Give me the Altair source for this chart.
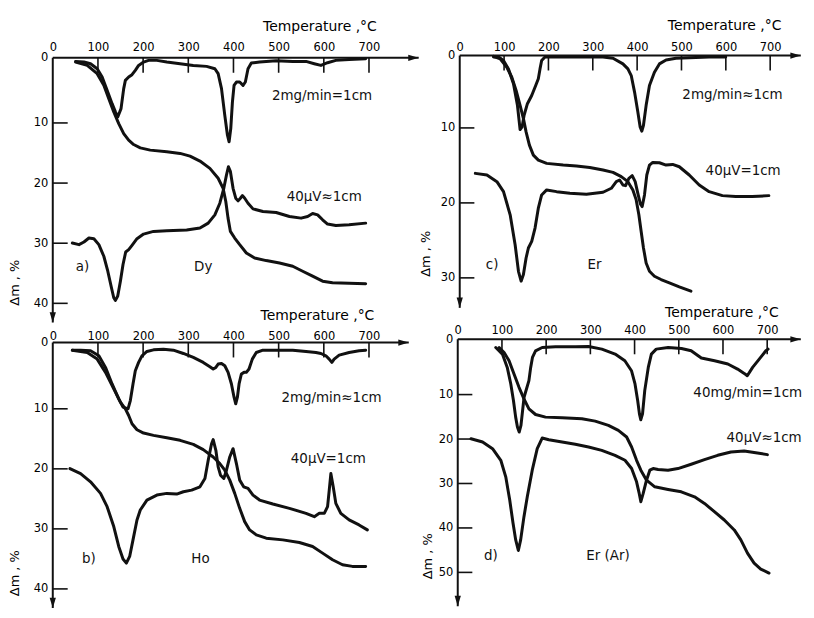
import altair as alt
import pandas as pd

FONT = "DejaVu Sans"
PW, PH = 399, 301
TEMP_TICKS = [0, 100, 200, 300, 400, 500, 600, 700]

# ---------------- panel a (Dy) ----------------
A_DTG_T = [50.6, 69, 83.6, 98.3, 109.3, 120.3, 131.3, 138.7, 143.8, 151.1, 157, 160.7, 168, 175.4, 182.7,
           190, 201, 212, 230.4, 252.4, 281.8, 311, 340.5, 358.8, 366.1, 373.5, 380.8, 386.7, 390.3, 394,
           397.7, 401.3, 406.5, 413.8, 421.2, 426.3, 432.2, 439.5, 457.8, 494.5, 531.2, 560.6, 578.9, 593.6,
           608.3, 626.6, 656, 692.6]
A_DTG_M = [0.56, 0.66, 0.91, 1.68, 2.96, 5.0, 7.04, 8.3, 9.08, 7.8, 4.74, 3.47, 2.96, 2.6, 1.93,
           1.17, 0.66, 0.4, 0.4, 0.66, 0.91, 1.17, 1.32, 1.68, 2.44, 4.74, 8.83, 12.04, 13.14, 10.94,
           6.78, 4.23, 3.72, 3.72, 4.23, 3.72, 1.68, 0.81, 0.66, 0.45, 0.56, 0.56, 0.91, 1.17,
           0.76, 0.4, 0.25, 0.15]
A_TG_T = [50.6, 76.3, 98.3, 113, 124, 135, 146, 157, 168, 179, 193.7, 215.7, 252.4, 281.8, 303.8, 325.8,
          347.8, 366.1, 377.1, 383, 388, 393.2, 402.7, 413.8, 428.5, 446.8, 472.5, 501.9, 531.2, 553.2,
          575.2, 597.3, 619.3, 692.6]
A_TG_M = [0.66, 1.17, 2.44, 4.23, 6.27, 8.32, 10.11, 11.77, 12.87, 13.59, 14.14, 14.52, 14.8, 15.07, 15.52,
          16.34, 17.56, 19.2, 20.87, 23.07, 25.83, 28.04, 29.14, 30.24, 31.62, 32.45, 32.89, 33.28, 33.83,
          34.66, 35.48, 36.31, 36.58, 36.75]
A_DTA_T = [43.3, 58, 69, 80, 91, 102, 113, 121.8, 129.9, 135, 138.7, 143.8, 149.7, 155.5, 161.4, 168,
           175.4, 186.4, 201, 223, 252.4, 296.4, 325.8, 344.1, 358.8, 369.8, 378.6, 384.5, 388.9, 393.3,
           399.1, 405, 410.2, 415.3, 419.7, 424.9, 432.2, 443.2, 465.2, 494.5, 523.9, 549.6, 564.2, 575.2,
           586.3, 597.3, 608.3, 626.6, 656, 692.6]
A_DTA_M = [29.97, 30.24, 29.8, 29.14, 29.25, 30.24, 32.17, 34.66, 37.41, 39.07, 39.51, 38.79, 36.31, 33.55,
           31.46, 31.07, 30.35, 29.25, 28.48, 28.04, 27.93, 27.82, 27.48, 26.66, 25.28, 23.35, 20.87, 18.66,
           17.28, 18.1, 20.87, 22.52, 22.96, 22.52, 22.08, 22.52, 23.35, 24.29, 24.73, 24.89, 25.55, 25.83,
           25.55, 25.06, 25.28, 26.1, 26.82, 27.04, 26.93, 26.66]

# ---------------- panel b (Ho) ----------------
B_DTG_T = [43.3, 61.6, 83.6, 102, 116.7, 131.3, 146, 155.5, 166.6, 171.7, 177.6, 182.7, 190, 197.4, 208.4,
           223, 245, 267, 289.1, 311.1, 333.1, 347.8, 355.1, 361, 366.1, 373.5, 380.8, 388.1, 395.5, 401.3,
           405, 408.7, 412.4, 417.5, 423.4, 428.5, 434.4, 441.7, 450.5, 465.2, 494.5, 531.2, 560.6, 582.6,
           593.6, 604.6, 611.9, 617.8, 622.9, 634, 656, 678, 692.6]
B_DTG_M = [1.15, 1.15, 1.25, 2.0, 3.75, 6.25, 8.5, 9.75, 10.0, 8.75, 6.25, 4.25, 3.0, 2.0, 1.35,
           1.1, 1.0, 1.15, 1.65, 2.25, 3.0, 3.65, 4.0, 3.75, 3.25, 3.15, 3.5, 4.5, 6.25, 8.25,
           9.25, 8.25, 6.25, 4.75, 4.5, 4.5, 4.0, 2.5, 1.5, 1.15, 1.15, 1.15, 1.35, 1.5,
           1.65, 2.0, 2.5, 3.0, 2.5, 1.9, 1.5, 1.25, 1.15]
B_TG_T = [43.3, 76.3, 98.3, 116.7, 135, 149.7, 160.7, 168, 175.4, 186.4, 201, 223, 252.4, 281.8, 311.1,
          333.1, 355.1, 369.8, 380.8, 391.8, 402.8, 413.8, 424.8, 435.8, 450.5, 472.5, 509.2, 545.9, 575.2,
          597.3, 619.3, 641.3, 663.3, 692.6]
B_TG_M = [1.15, 1.5, 2.5, 4.5, 7.0, 9.0, 10.0, 11.11, 12.49, 13.49, 14.04, 14.42, 14.81, 15.25, 15.92,
          16.8, 18.02, 19.12, 20.23, 21.88, 24.09, 26.58, 28.79, 30.17, 31.0, 31.55, 31.83, 32.27, 32.93,
          34.04, 35.14, 35.97, 36.25, 36.25]
B_DTA_T = [38, 61.6, 83.6, 105.7, 120.3, 135, 146, 155.5, 162.9, 170.2, 177.6, 186.4, 193.7, 208.4, 230.4,
           252.4, 274.4, 289.1, 307.4, 325.8, 336.8, 344.1, 351.5, 355.1, 361, 366.1, 371.3, 378.6, 384.5,
           391.8, 399.1, 406.5, 413.8, 422.6, 432.2, 443.2, 457.8, 487.2, 523.9, 560.6, 578.9, 590, 601,
           608.3, 612, 615.6, 620.8, 626.6, 637.6, 656, 678, 696.3]
B_DTA_M = [19.95, 20.78, 22.16, 24.09, 26.3, 29.62, 32.93, 35.03, 35.7, 34.59, 31.83, 28.51, 26.86, 25.2,
           24.37, 24.09, 24.2, 23.82, 23.54, 22.99, 21.61, 18.57, 15.81, 15.14, 16.91, 19.67, 21.06, 21.61,
           20.23, 18.02, 16.64, 19.12, 21.88, 22.99, 23.27, 24.37, 25.2, 25.86, 26.58, 27.41, 27.96, 27.41,
           27.41, 26.3, 23.54, 20.78, 22.99, 25.75, 27.41, 28.51, 29.34, 30.17]

# ---------------- panel c (Er) ----------------
C_DTG_T = [76.3, 87.5, 98.7, 109.9, 121.2, 130.1, 136.1, 140.6, 145.1, 152.6, 162.3, 171.3, 177.2, 181,
           184.7, 192.2, 203.4, 248.3, 293.2, 323.1, 345.6, 368, 379.2, 386.7, 394.2, 401.6, 406.8, 410.6,
           414.3, 420.3, 427.8, 439, 450.2, 465.2, 487.6, 532.5, 562.4, 599.8]
C_DTG_M = [0.2, 0.2, 0.69, 1.84, 3.9, 6.88, 10.22, 9.86, 8.25, 6.65, 5.51, 4.13, 3.21, 1.84,
           0.69, 0.2, 0.2, 0.2, 0.2, 0.2, 0.37, 1.15, 1.84, 2.76, 5.05, 7.79, 9.86, 10.44,
           9.63, 6.88, 4.13, 2.3, 1.15, 0.6, 0.37, 0.25, 0.2, 0.2]
C_TG_T = [76.3, 91.2, 106.2, 117.4, 127.1, 136.1, 143.6, 149.6, 157.1, 166, 177.2, 196, 233.3, 263.3, 293.2,
          323.1, 345.6, 364.2, 379.2, 390.4, 397.9, 403.9, 409.1, 414.3, 420.3, 427.8, 439, 454, 472.7,
          495.1, 521.3]
C_TG_M = [0.1, 0.46, 1.61, 2.99, 4.82, 6.88, 8.71, 10.53, 12.3, 13.63, 14.29, 14.73, 14.96, 15.09, 15.27,
          15.62, 15.93, 16.5, 17.17, 18.27, 19.6, 21.59, 23.81, 26.02, 28.01, 29.12, 29.78, 30.22, 30.66,
          31.19, 31.77]
C_DTA_T = [35.2, 61.3, 83.8, 98.7, 113.7, 124.9, 132.4, 138.4, 143.6, 149.6, 154.8, 162.3, 169.8, 177.2,
           184.7, 196, 218.4, 248.3, 285.7, 323.1, 341.8, 353, 360.5, 368, 373.9, 381.4, 388.9, 395.6,
           401.6, 407.6, 411.4, 416.6, 421.8, 427.8, 435.3, 450.2, 465.2, 480.1, 495.1, 517.5, 540, 562.4,
           592.3, 622.3, 659.6, 697]
C_DTA_M = [16.06, 16.28, 17.17, 18.5, 21.59, 25.58, 29.12, 30.44, 29.56, 27.35, 26.02, 25.13, 23.36, 20.71,
           18.94, 18.27, 18.5, 18.72, 18.85, 18.58, 18.05, 17.17, 16.95, 17.61, 17.7, 16.73, 16.37, 17.17,
           18.72, 20.18, 20.49, 18.94, 16.28, 14.96, 14.6, 14.65, 14.96, 14.87, 15.18, 16.28, 17.61, 18.5,
           19.03, 19.16, 19.16, 19.03]

# ---------------- panel d (Er, Ar) ----------------
D_DTG_T = [86, 101, 112, 120, 126, 131, 135, 139, 143, 150, 161, 165, 169, 176, 191, 221, 266, 296, 326,
           356, 378, 393, 401, 407, 411, 414, 418, 423, 431, 438, 449, 476, 506, 528, 551, 581, 611, 633,
           648, 655, 667, 682, 697, 702]
D_DTG_M = [1.47, 2.67, 5.08, 8.08, 11.34, 15.07, 17.31, 18.43, 16.94, 10.6, 7.48, 5.08, 3.27, 2.07, 1.47,
           1.35, 1.35, 1.29, 1.77, 2.67, 3.87, 5.68, 8.08, 11.34, 14.33, 15.67, 14.33, 9.28, 5.08, 2.67,
           1.77, 1.47, 1.65, 2.07, 3.39, 3.87, 4.47, 5.38, 6.16, 6.58, 5.08, 3.57, 2.07, 1.77]
D_TG_T = [93.6, 104.9, 116.1, 127.3, 138.6, 149.8, 161, 176, 198.5, 236, 280.9, 310.9, 340.8, 363.3, 382,
          393.3, 404.5, 414.2, 427, 445.7, 475.7, 505.6, 535.6, 558.1, 580.5, 603, 625.5, 640.4, 655.4,
          670.4, 685.4, 704.1]
D_TG_M = [1.47, 2.37, 3.87, 6.28, 8.68, 10.97, 13.21, 14.48, 15.07, 15.22, 15.45, 15.97, 16.94, 18.06,
          19.55, 21.79, 24.78, 27.01, 29.25, 30.75, 31.34, 31.87, 32.99, 34.48, 36.34, 38.21, 40.45, 42.69,
          45.67, 47.91, 49.25, 50.15]
D_DTA_T = [30, 56.2, 78.7, 97.4, 108.6, 117.6, 125.1, 131.1, 137.1, 142.3, 149.8, 157.3, 168.5, 179.8, 191,
           206, 236, 265.9, 295.9, 325.8, 355.8, 378.3, 393.3, 404.5, 410.5, 414.2, 419.5, 427, 434.5, 442,
           453.2, 475.7, 498.1, 528.1, 558.1, 588, 618, 647.9, 677.9, 700.4]
D_DTA_M = [19.93, 20.67, 22.16, 24.78, 28.51, 33.73, 38.96, 42.69, 45.07, 42.69, 37.46, 32.99, 27.01, 22.16,
           19.78, 20.15, 20.67, 21.19, 21.79, 22.54, 23.66, 24.78, 26.64, 29.63, 32.24, 34.1, 32.24, 29.25,
           27.01, 26.64, 26.87, 27.01, 26.64, 25.67, 24.63, 23.66, 22.91, 22.69, 23.13, 23.51]

# ---------------- texts ----------------
A_NOTES = [("a)", 66, 34.0), ("Dy", 333, 34.0), ("2mg/min=1cm", 596, 5.9), ("40µV≈1cm", 601, 22.4)]
B_NOTES = [("b)", 80, 35.1), ("Ho", 327, 35.1), ("2mg/min≈1cm", 617, 8.4), ("40µV=1cm", 610, 18.4)]
C_NOTES = [("c)", 73, 28.25), ("Er", 304, 28.25), ("2mg/min≈1cm", 615, 5.4), ("40µV=1cm", 639, 15.7)]
D_NOTES = [("d)", 75, 46.4), ("Er (Ar)", 340, 46.4), ("40mg/min=1cm", 656, 9.7), ("40µV≈1cm", 693, 19.7)]

X_TITLE = "Temperature ,°C"
Y_TITLE = "Δm , %"

DOWN_ARROW = "M0,0 L-0.6,-2 L0.6,-2 Z"
RIGHT_ARROW = "M0,0 L-2,-0.6 L-2,0.6 Z"
INK = "#111"
YTICK_LEN = 33  # in °C units along the temperature scale


def panel(curves, notes, xr, yd, yr, yticks, x_end, y_end, xtick_d, xlabpad, tx, ty, ytx, yty):
    xscale = alt.Scale(domain=[0, 700], range=xr, nice=False, zero=False)
    yscale = alt.Scale(domain=yd, range=yr, nice=False, zero=False)
    xaxis = alt.Axis(orient="top", values=TEMP_TICKS, domain=False, ticks=False, tickSize=0, grid=False,
                     offset=-yr[0], labelPadding=xlabpad, labelFlush=False, labelFont=FONT,
                     labelFontSize=11.5, labelColor="black", title=X_TITLE, titleFont=FONT,
                     titleFontSize=14, titleFontWeight="normal", titleColor="black", titleX=tx, titleY=ty,
                     titleAlign="center", titleBaseline="alphabetic", titleAngle=0)
    yaxis = alt.Axis(orient="left", values=yticks, domain=False, ticks=False, tickSize=0, grid=False,
                     offset=-xr[0], labelPadding=5, labelFlush=False, labelFont=FONT, labelFontSize=11.5,
                     labelColor="black", title=Y_TITLE, titleFont=FONT, titleFontSize=13,
                     titleFontWeight="normal", titleColor="black", titleX=ytx, titleY=yty,
                     titleAlign="center", titleBaseline="middle", titleAngle=270)
    X = alt.X("T:Q", scale=xscale, axis=xaxis)
    Y = alt.Y("dm:Q", scale=yscale, axis=yaxis)

    rows = []
    for s, (ts, ms) in enumerate(curves):
        for i, (t, m) in enumerate(zip(ts, ms)):
            rows.append({"T": t, "dm": m, "series": s, "idx": i})
    cdf = pd.DataFrame(rows)
    lines = alt.Chart(cdf).mark_line(color=INK, strokeWidth=3, strokeCap="round",
                                     strokeJoin="round").encode(x=X, y=Y, detail="series:N", order="idx:Q")

    # axis lines and ticks, drawn as two-point segments
    seg = []
    seg += [{"T": 0, "dm": 0, "k": "xaxis", "o": 0}, {"T": x_end, "dm": 0, "k": "xaxis", "o": 1}]
    seg += [{"T": 0, "dm": 0, "k": "yaxis", "o": 0}, {"T": 0, "dm": y_end, "k": "yaxis", "o": 1}]
    axes_df = pd.DataFrame(seg)
    axes = alt.Chart(axes_df).mark_line(color=INK, strokeWidth=2).encode(
        x=X, y=Y, detail="k:N", order="o:Q")

    tk = []
    for t in TEMP_TICKS[1:]:
        tk += [{"T": t, "dm": 0, "k": f"x{t}", "o": 0}, {"T": t, "dm": xtick_d, "k": f"x{t}", "o": 1}]
    for v in yticks[1:]:
        tk += [{"T": 0, "dm": v, "k": f"y{v}", "o": 0}, {"T": YTICK_LEN, "dm": v, "k": f"y{v}", "o": 1}]
    ticks = alt.Chart(pd.DataFrame(tk)).mark_line(color=INK, strokeWidth=1.6).encode(
        x=X, y=Y, detail="k:N", order="o:Q")

    arr_r = alt.Chart(pd.DataFrame({"T": [x_end], "dm": [0]})).mark_point(
        shape=RIGHT_ARROW, filled=True, color=INK, size=110, opacity=1).encode(x=X, y=Y)
    arr_d = alt.Chart(pd.DataFrame({"T": [0], "dm": [y_end]})).mark_point(
        shape=DOWN_ARROW, filled=True, color=INK, size=110, opacity=1).encode(x=X, y=Y)

    ndf = pd.DataFrame(notes, columns=["label", "T", "dm"])
    texts = alt.Chart(ndf).mark_text(font=FONT, fontSize=13.5, color=INK, align="center",
                                     baseline="middle").encode(x=X, y=Y, text="label:N")

    return alt.layer(lines, axes, ticks, arr_r, arr_d, texts).properties(width=PW, height=PH)


pa = panel([(A_DTG_T, A_DTG_M), (A_TG_T, A_TG_M), (A_DTA_T, A_DTA_M)], A_NOTES,
           xr=[44, 361.8], yd=[0, 10, 40], yr=[47.5, 113, 294.3], yticks=[0, 10, 20, 30, 40],
           x_end=810, y_end=43.2, xtick_d=2.3, xlabpad=5.3, tx=312, ty=-27, ytx=-38, yty=273)
pb = panel([(B_DTG_T, B_DTG_M), (B_TG_T, B_TG_M), (B_DTA_T, B_DTA_M)], B_NOTES,
           xr=[44, 361.8], yd=[0, 10, 40], yr=[32.7, 99.3, 280.3], yticks=[0, 10, 20, 30, 40],
           x_end=788, y_end=43.2, xtick_d=2.25, xlabpad=1.5, tx=309.5, ty=-22.7, ytx=-38, yty=264)
pc = panel([(C_DTG_T, C_DTG_M), (C_TG_T, C_TG_M), (C_DTA_T, C_DTA_M)], C_NOTES,
           xr=[54, 366], yd=[0, 10, 30], yr=[45.3, 118, 268.7], yticks=[0, 10, 20, 30],
           x_end=769, y_end=34.0, xtick_d=2.06, xlabpad=3, tx=319.7, ty=-26.3, ytx=-34, yty=244)
pd_ = panel([(D_DTG_T, D_DTG_M), (D_TG_T, D_TG_M), (D_DTA_T, D_DTA_M)], D_NOTES,
            xr=[52, 363], yd=[0, 10, 50], yr=[29.5, 85, 263.7], yticks=[0, 10, 20, 30, 40, 50],
            x_end=776, y_end=57.6, xtick_d=2.7, xlabpad=3.6, tx=317, ty=-23.3, ytx=-30, yty=247)

chart = alt.concat(pa, pc, pb, pd_, columns=2, spacing=0, bounds="flush").properties(
    padding=0).configure_view(stroke="transparent")

chart.save("out.html", embed_options={"renderer": "svg", "actions": False})
